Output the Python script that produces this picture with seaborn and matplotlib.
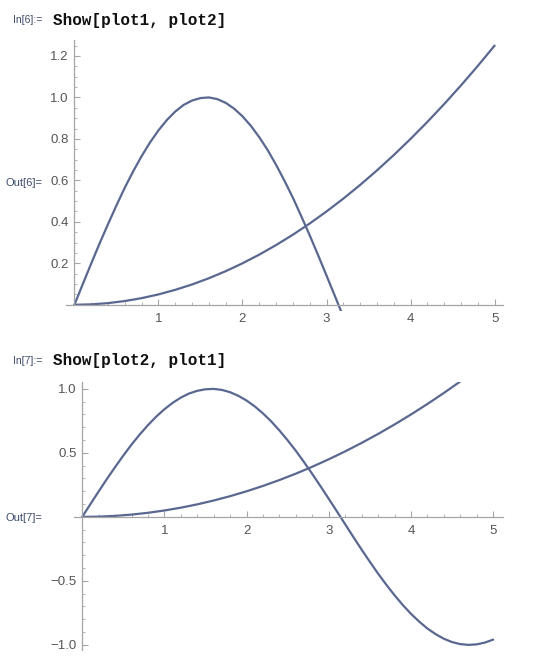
"""Two Mathematica-style Show[] outputs: sin-like curve and parabola."""
import matplotlib
matplotlib.use("Agg")
import matplotlib.pyplot as plt
import seaborn as sns
from matplotlib.ticker import FixedLocator, MultipleLocator

# --- data ---
x_vals = [0.0, 0.1, 0.2, 0.3, 0.4, 0.5, 0.6, 0.7, 0.8, 0.9,
          1.0, 1.1, 1.2, 1.3, 1.4, 1.5, 1.6, 1.7, 1.8, 1.9,
          2.0, 2.1, 2.2, 2.3, 2.4, 2.5, 2.6, 2.7, 2.8, 2.9,
          3.0, 3.1, 3.2, 3.3, 3.4, 3.5, 3.6, 3.7, 3.8, 3.9,
          4.0, 4.1, 4.2, 4.3, 4.4, 4.5, 4.6, 4.7, 4.8, 4.9, 5.0]
wave_vals = [0.000, 0.100, 0.199, 0.296, 0.389, 0.479, 0.565, 0.644, 0.717, 0.783,
             0.841, 0.891, 0.932, 0.964, 0.985, 0.997, 1.000, 0.992, 0.974, 0.946,
             0.909, 0.863, 0.808, 0.746, 0.675, 0.598, 0.516, 0.427, 0.335, 0.239,
             0.141, 0.042, -0.058, -0.158, -0.256, -0.351, -0.443, -0.530, -0.612, -0.688,
             -0.757, -0.818, -0.872, -0.916, -0.952, -0.978, -0.994, -1.000, -0.996, -0.982,
             -0.959]
parab_vals = [0.000, 0.001, 0.002, 0.005, 0.008, 0.013, 0.018, 0.025, 0.032, 0.041,
              0.050, 0.061, 0.072, 0.085, 0.098, 0.113, 0.128, 0.145, 0.162, 0.181,
              0.200, 0.221, 0.242, 0.265, 0.288, 0.313, 0.338, 0.365, 0.392, 0.421,
              0.450, 0.481, 0.512, 0.545, 0.578, 0.613, 0.648, 0.685, 0.722, 0.761,
              0.800, 0.841, 0.882, 0.925, 0.968, 1.013, 1.058, 1.105, 1.152, 1.201, 1.250]

x_ticks = [1, 2, 3, 4, 5]
top_yticks = [0.2, 0.4, 0.6, 0.8, 1.0, 1.2]
bot_yticks = [-1.0, -0.5, 0.5, 1.0]

LINE = "#5a6890"
AXIS = "#a6a6a6"
LABEL = "#555555"

sns.set_theme(style="white")
plt.rcParams["font.family"] = ["Liberation Sans", "DejaVu Sans"]

fig = plt.figure(figsize=(5.4, 6.61), dpi=100)


def style_axes(ax, xlim, ylim, ybounds, yticks, ymajor_fmt, yminor):
    ax.set_xlim(*xlim)
    ax.set_ylim(*ylim)
    for side in ("top", "right"):
        ax.spines[side].set_visible(False)
    for side in ("left", "bottom"):
        ax.spines[side].set_position(("data", 0))
        ax.spines[side].set_color(AXIS)
        ax.spines[side].set_linewidth(0.9)
    ax.spines["left"].set_bounds(*ybounds)
    ax.xaxis.set_major_locator(FixedLocator(x_ticks))
    ax.xaxis.set_minor_locator(MultipleLocator(0.2))
    ax.yaxis.set_major_locator(FixedLocator(yticks))
    ax.yaxis.set_minor_locator(MultipleLocator(yminor))
    ax.set_xticklabels([str(t) for t in x_ticks])
    ax.set_yticklabels([ymajor_fmt(t) for t in yticks])
    ax.tick_params(which="both", bottom=True, left=True, top=False, right=False)
    ax.tick_params(which="major", direction="in", length=4.5, width=0.8,
                   color=AXIS, labelcolor=LABEL, labelsize=9.5)
    ax.tick_params(which="minor", direction="in", length=2.5, width=0.6, color=AXIS)
    ax.tick_params(axis="x", pad=6)
    ax.tick_params(axis="y", pad=4)
    ax.set_xlabel("")
    ax.set_ylabel("")
    ax.patch.set_alpha(0)


# --- In[6]: Show[plot1, plot2] ---
ax1 = fig.add_axes([66 / 540, 1 - 311 / 661, 437 / 540, 271 / 661])
sns.lineplot(x=x_vals, y=parab_vals, ax=ax1, color=LINE, lw=1.6)
sns.lineplot(x=x_vals, y=wave_vals, ax=ax1, color=LINE, lw=1.6)
style_axes(ax1, (-0.1, 5.1), (-0.03, 1.277), (0, 1.277), top_yticks,
           lambda t: f"{t:.1f}", 0.05)

# --- In[7]: Show[plot2, plot1] ---
ax2 = fig.add_axes([74 / 540, 1 - 650 / 661, 429 / 540, 267.5 / 661])
sns.lineplot(x=x_vals, y=wave_vals, ax=ax2, color=LINE, lw=1.6)
sns.lineplot(x=x_vals, y=parab_vals, ax=ax2, color=LINE, lw=1.6)
style_axes(ax2, (-0.1, 5.12), (-1.04, 1.05), (-1.04, 1.05), bot_yticks,
           lambda t: f"{t:.1f}".replace("-", "\u2212"), 0.1)

for ax in (ax1, ax2):
    for line in ax.get_lines():
        line.set_solid_joinstyle("round")
        line.set_solid_capstyle("round")


# --- notebook cell labels ---
def px(x, y):
    return x / 540, 1 - y / 661


for y, n, cmd in [(20, 6, "Show[plot1, plot2]"), (361, 7, "Show[plot2, plot1]")]:
    fig.text(*px(13, y), f"In[{n}]:=", fontsize=7.5, color="#3d4a6b",
             va="center", ha="left")
    fig.text(*px(53, y), cmd, fontsize=11.5, fontweight="bold",
             family=["Liberation Mono", "DejaVu Sans Mono"], color="#111111",
             va="center", ha="left")

fig.text(*px(6, 183), "Out[6]=", fontsize=8, color="#3d4a6b", va="center", ha="left")
fig.text(*px(6, 518), "Out[7]=", fontsize=8, color="#3d4a6b", va="center", ha="left")

fig.savefig("out.png", dpi=100)
